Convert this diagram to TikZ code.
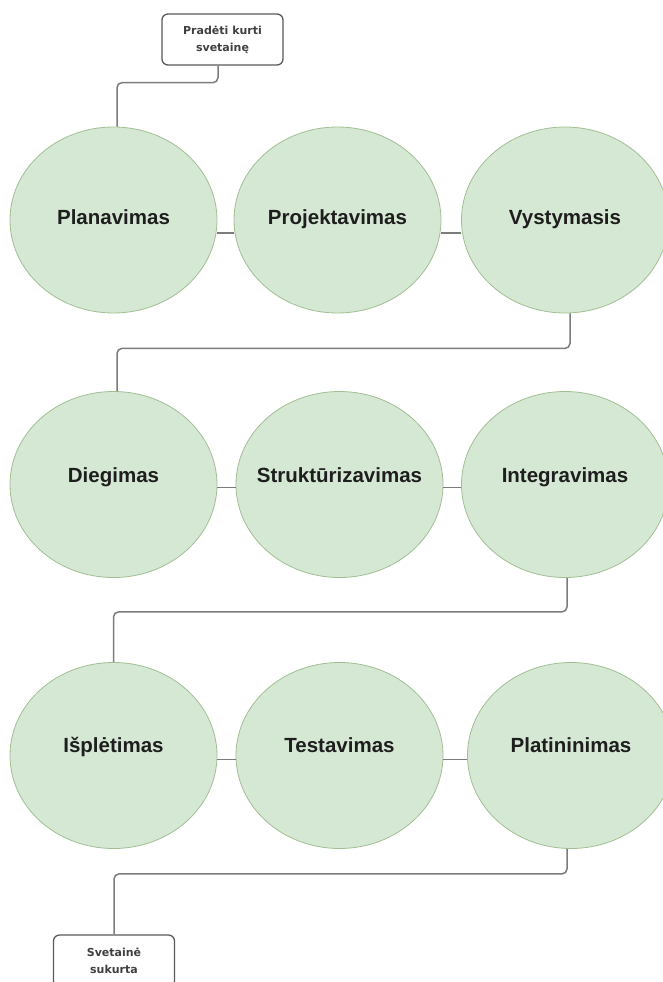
\documentclass[tikz,border=0pt]{standalone}
\usepackage{fontspec}
\setmainfont{Liberation Sans}
\newfontfamily\boxfont{DejaVu Sans}
\usetikzlibrary{shapes.geometric}
\definecolor{stagefill}{HTML}{D5E8D4}
\definecolor{stageline}{HTML}{A2BF94}
\definecolor{wire}{HTML}{7C7C7C}
\definecolor{boxline}{HTML}{5A5A5A}
\definecolor{ink}{HTML}{1E1E1E}

\begin{document}
\begin{tikzpicture}[x=1pt,y=-1pt,
  stage/.style={ellipse, draw=stageline, line width=0.8pt, fill=stagefill,
    minimum width=207pt, minimum height=186pt, inner sep=0pt},
  stagetext/.style={font=\fontsize{20.5}{24}\selectfont\bfseries, text=ink,
    inner sep=0pt, text height=14.8pt, text depth=0pt},
  termbox/.style={draw=boxline, line width=1.3pt, rounded corners=6pt, fill=white,
    minimum width=121pt, minimum height=51pt, inner sep=0pt, align=center,
    font=\boxfont\fontsize{11}{17}\selectfont\bfseries, text=ink!85},
  conn/.style={draw=wire, line width=1.5pt, rounded corners=5pt}]

\useasboundingbox (0,0) rectangle (662,982);

% start and end terminals
\node[termbox] (start) at (222.5,39.5) {Pradėti kurti\\svetainę};
\node[termbox, minimum height=52pt] (finish) at (114,961) {Svetainė\\sukurta};

% first row
\node[stage] (s1) at (113.5,220) {};
\node[stage] (s2) at (337.5,220) {};
\node[stage] (s3) at (565,220) {};
\node[stagetext] (t1) at (113.5,217) {Planavimas};
\node[stagetext] (t2) at (337.5,217) {Projektavimas};
\node[stagetext] (t3) at (565,217) {Vystymasis};

% second row
\node[stage] (s4) at (113.5,484.5) {};
\node[stage] (s5) at (339.5,484.5) {};
\node[stage] (s6) at (565,484.5) {};
\node[stagetext] (t4) at (113.5,475) {Diegimas};
\node[stagetext] (t5) at (339.5,475) {Struktūrizavimas};
\node[stagetext] (t6) at (565,475) {Integravimas};

% third row
\node[stage] (s7) at (113.5,755.5) {};
\node[stage] (s8) at (339.5,755.5) {};
\node[stage] (s9) at (571,755.5) {};
\node[stagetext] (t7) at (113.5,745) {Išplėtimas};
\node[stagetext] (t8) at (339.5,745) {Testavimas};
\node[stagetext] (t9) at (571,745) {Platininimas};

% links inside each row
\draw[conn] ([yshift=-13pt]s1.east) -- ([yshift=-13pt]s2.west);
\draw[conn] ([yshift=-13pt]s2.east) -- ([yshift=-13pt]s3.west);
\draw[conn] ([yshift=-3pt]s4.east) -- ([yshift=-3pt]s5.west);
\draw[conn] ([yshift=-3pt]s5.east) -- ([yshift=-3pt]s6.west);
\draw[conn] ([yshift=-4pt]s7.east) -- ([yshift=-4pt]s8.west);
\draw[conn] ([yshift=-4pt]s8.east) -- ([yshift=-4pt]s9.west);

% links between rows
\draw[conn] ([xshift=-4.5pt]start.south) -- ++(0,17) -| ([xshift=3.5pt]s1.north);
\draw[conn] ([xshift=5pt]s3.south) -- ++(0,35) -| ([xshift=3.5pt]s4.north);
\draw[conn] ([xshift=2pt]s6.south) -- ++(0,34) -| (s7.north);
\draw[conn] ([xshift=-4pt]s9.south) -- ++(0,25) -| (finish.north);
\end{tikzpicture}
\end{document}
